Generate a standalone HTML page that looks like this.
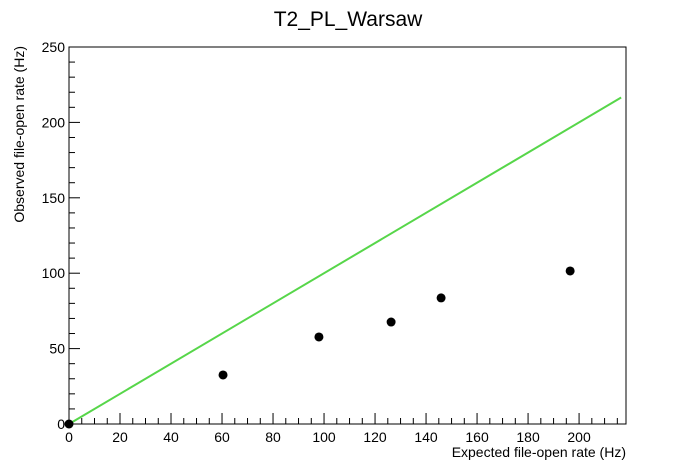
<!DOCTYPE html>
<html><head><meta charset="utf-8"><style>
body{margin:0;background:#fff;font-family:"Liberation Sans",Arial,sans-serif}
svg{display:block}
text{font-family:"Liberation Sans",Arial,sans-serif;fill:#000}
</style></head><body>
<svg id="c" width="696" height="472"></svg>
<script>
const xVals=[0,60.4,98,126.3,145.9,196.5];
const yVals=[0,32.5,57.7,67.6,83.6,101.5];
const xTicks=[0,20,40,60,80,100,120,140,160,180,200];
const yTicks=[0,50,100,150,200,250];
const lineEnd=[0,216.5];
const L=69,R=626,T=47,B=424,XMAX=218.4,YMAX=250;
const sx=v=>L+v/XMAX*(R-L), sy=v=>B-v/YMAX*(B-T);
const svg=document.getElementById('c');const NS='http://www.w3.org/2000/svg';
function mk(t,a,p){const e=document.createElementNS(NS,t);for(const k in a)e.setAttribute(k,a[k]);(p||svg).appendChild(e);return e;}
let e=mk('text',{x:348,y:26,'font-size':21,'text-anchor':'middle'});e.textContent='T2_PL_Warsaw';


e=mk('rect',{x:L,y:T,width:R-L,height:B-T,fill:'none',stroke:'#000','stroke-width':1});


const gx=mk('g',{});


for(let v=0;v<=XMAX;v+=5){const maj=v%20===0;mk('line',{x1:sx(v),x2:sx(v),y1:B,y2:B-(maj?11:6),stroke:'#000'},gx);}
xTicks.forEach(v=>{const t=mk('text',{x:sx(v),y:B+18,'font-size':14,'text-anchor':'middle'},gx);t.textContent=v;

});
const gy=mk('g',{});


for(let v=0;v<=YMAX;v+=10){const maj=v%50===0;mk('line',{x1:L,x2:L+(maj?11:6),y1:sy(v),y2:sy(v),stroke:'#000'},gy);}
yTicks.forEach(v=>{const t=mk('text',{x:L-4,y:sy(v)+5,'font-size':14,'text-anchor':'end'},gy);t.textContent=v;

});
e=mk('text',{x:626,y:457,'font-size':14,'text-anchor':'end'});e.textContent='Expected file-open rate (Hz)';


e=mk('text',{x:24,y:46,'font-size':14,'text-anchor':'end',transform:'rotate(-90 24 46)'});e.textContent='Observed file-open rate (Hz)';


e=mk('line',{x1:sx(lineEnd[0]),y1:sy(lineEnd[0]),x2:sx(lineEnd[1]),y2:sy(lineEnd[1]),stroke:'#57d64a','stroke-width':2});


xVals.forEach((x,i)=>{const p=mk('circle',{cx:sx(x),cy:sy(yVals[i]),r:4.5,fill:'#000'});

});
</script>
</body></html>
